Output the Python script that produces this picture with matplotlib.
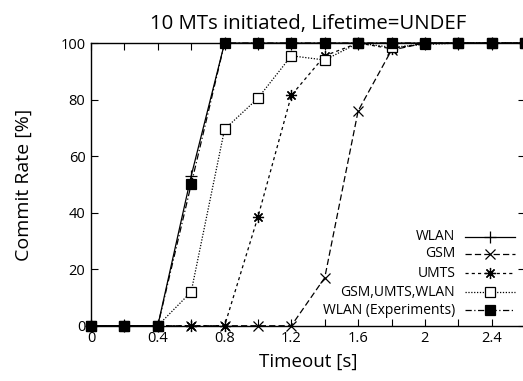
import matplotlib
matplotlib.use("Agg")
import matplotlib.pyplot as plt
from matplotlib.ticker import MultipleLocator

plt.rcParams['font.family'] = ['Open Sans', 'DejaVu Sans']

# timeout values [s]
timeout = [0.0, 0.2, 0.4, 0.6, 0.8, 1.0, 1.2, 1.4, 1.6, 1.8, 2.0, 2.2, 2.4, 2.6]

# commit rate [%] per network
wlan = [0, 0, 0, 53, 100, 100, 100, 100, 100, 100, 100, 100, 100, 100]
gsm = [0, 0, 0, 0, 0, 0, 0, 17, 76, 97.5, 100, 100, 100, 100]
umts = [0, 0, 0, 0, 0, 38.5, 81.5, 95.5, 100, 98, 100, 100, 100, 100]
mixed = [0, 0, 0, 12, 69.5, 80.5, 95.5, 94, 100, 98.5, 99.5, 100, 100, 100]
wlan_exp = [0, 0, 0, 50, 100, 100, 100, 100, 100, 100, 100, 100, 100, 100]

series = [
    ("WLAN", wlan, dict(linestyle='-', marker='+', ms=8, mfc='none')),
    ("GSM", gsm, dict(linestyle=(0, (5, 2.5)), marker='x', ms=6.5, mfc='none')),
    ("UMTS", umts, dict(linestyle=(0, (2.5, 2.5)), marker=(8, 2, 0), ms=8, mfc='none')),
    ("GSM,UMTS,WLAN", mixed, dict(linestyle=(0, (1, 1.3)), marker='s', ms=7.5, mfc='white')),
    ("WLAN (Experiments)", wlan_exp, dict(linestyle=(0, (5, 2, 1, 2)), marker='s', ms=7.5, mfc='black')),
]

fig = plt.figure(figsize=(5.23, 3.81), dpi=100)
ax = fig.add_axes([0.174, 0.145, 0.830, 0.742])

for label, vals, style in series:
    ax.plot(timeout, vals, color='black', lw=0.9, mec='black', mew=0.9,
            clip_on=False, zorder=3, **style)

ax.set_xlim(0, 2.6)
ax.set_ylim(0, 100)
ax.xaxis.set_major_locator(MultipleLocator(0.4))
ax.xaxis.set_minor_locator(MultipleLocator(0.2))
ax.yaxis.set_major_locator(MultipleLocator(20))
ax.xaxis.set_major_formatter(plt.FuncFormatter(lambda v, p: f"{v:g}"))
ax.tick_params(which='both', direction='in', top=True, right=True,
               length=5, width=0.8, labelsize=10.5, pad=4)
for s in ax.spines.values():
    s.set_linewidth(1.0)

ax.set_title("10 MTs initiated, Lifetime=UNDEF", fontsize=14.7, pad=10)
ax.set_xlabel("Timeout [s]", fontsize=13.5, labelpad=5)
ax.set_ylabel("Commit Rate [%]", fontsize=14, labelpad=20)

# legend drawn by hand: text right-aligned, sample line to the right
rows_y = [0.314, 0.254, 0.186, 0.119, 0.055]
for (label, vals, style), yy in zip(series, rows_y):
    ax.plot([0.862, 0.977], [yy, yy], transform=ax.transAxes, color='black',
            lw=0.9, linestyle=style['linestyle'], zorder=4)
    ax.plot([0.919], [yy], transform=ax.transAxes, color='black', lw=0,
            marker=style['marker'], ms=style['ms'], mfc=style['mfc'],
            mec='black', mew=0.9, zorder=5)
    ax.text(0.839, yy, label, transform=ax.transAxes, ha='right',
            va='center', fontsize=10)

fig.savefig("out.png", dpi=100)
